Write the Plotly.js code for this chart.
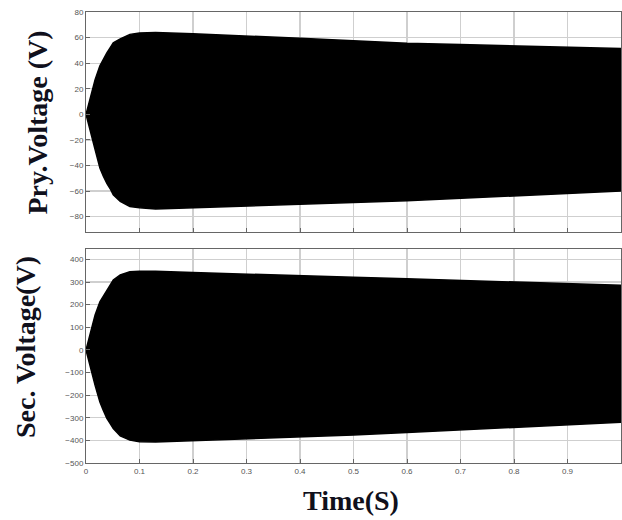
<!DOCTYPE html>
<html>
<head>
<meta charset="utf-8">
<script src="https://cdn.plot.ly/plotly-3.0.1.min.js"></script>
<style>html,body{margin:0;padding:0;background:#fff;}#chart{width:622px;height:520px;}</style>
</head>
<body>
<div id="chart"></div>
<script>
// Envelope sample times (s)
var timeS = [0, 0.0075, 0.017, 0.026, 0.032, 0.039, 0.045, 0.051, 0.064, 0.082, 0.1, 0.13, 0.2, 0.3, 0.4, 0.5, 0.6, 0.7, 0.8, 0.9, 1.0];
// Primary voltage envelope (V)
var pryUpper = [0, 12, 27, 38, 43, 48, 52, 56, 59, 62.5, 63.5, 64, 63, 61.5, 59.5, 57.5, 55.5, 54.5, 53.5, 52.5, 51.5];
var pryLower = [0, -12, -27.5, -42, -48, -54, -58, -63, -68, -72, -73, -74, -73.5, -72, -70.5, -69, -67.5, -66, -64, -62, -60];
// Secondary voltage envelope (V)
var secUpper = [0, 73, 154, 213, 235, 262, 286, 309, 331, 345, 348, 348, 342, 336, 329, 321, 314, 307, 300, 293, 286];
var secLower = [0, -67, -156, -230, -265, -303, -325, -348, -380, -399, -406, -407, -402, -394, -385, -376, -365, -355, -344, -332, -320];

var pryTicks = [-80, -60, -40, -20, 0, 20, 40, 60, 80];
var secTicks = [-500, -400, -300, -200, -100, 0, 100, 200, 300, 400];
var xTicks = [0, 0.1, 0.2, 0.3, 0.4, 0.5, 0.6, 0.7, 0.8, 0.9, 1];
var xTickText = ['0', '0.1', '0.2', '0.3', '0.4', '0.5', '0.6', '0.7', '0.8', '0.9', '1'];

function band(up, lo, xa, ya) {
  var xs = timeS.concat(timeS.slice().reverse());
  var ys = up.concat(lo.slice().reverse());
  return {x: xs, y: ys, xaxis: xa, yaxis: ya, type: 'scatter', mode: 'lines',
    fill: 'toself', fillcolor: '#000', line: {color: '#000', width: 1.5}, hoverinfo: 'skip'};
}

var data = [band(pryUpper, pryLower, 'x', 'y'), band(secUpper, secLower, 'x2', 'y2')];

var tickFont = {family: 'Liberation Sans, Arial, sans-serif', size: 8, color: '#555'};
var axBase = {showline: true, mirror: true, linecolor: '#666', linewidth: 1,
  showgrid: true, gridcolor: '#cfcfcf', gridwidth: 1.2, zeroline: false,
  ticks: 'inside', ticklen: 4, tickcolor: '#666', tickfont: tickFont};

function ax(extra) { var o = {}; for (var k in axBase) o[k] = axBase[k]; for (var k2 in extra) o[k2] = extra[k2]; return o; }

var titleFont = {family: 'Liberation Serif, Times New Roman, serif', size: 28, color: '#10101c'};

var layout = {
  width: 622, height: 520,
  margin: {l: 86, r: 1, t: 12, b: 57},
  paper_bgcolor: '#fff', plot_bgcolor: '#fff',
  showlegend: false,
  xaxis: ax({domain: [0, 1], range: [0, 1], tickvals: xTicks, showticklabels: false, anchor: 'y'}),
  yaxis: ax({domain: [0.5122, 1], range: [-92, 80], tickvals: pryTicks, anchor: 'x'}),
  xaxis2: ax({domain: [0, 1], range: [0, 1], tickvals: xTicks, ticktext: xTickText, anchor: 'y2'}),
  yaxis2: ax({domain: [0, 0.4745], range: [-500, 446], tickvals: secTicks, anchor: 'x2'}),
  annotations: [
    {text: '<b>Pry.Voltage (V)</b>', xref: 'paper', yref: 'paper', x: (37 - 86) / 535, y: 1 - (122.5 - 12) / 451,
      xanchor: 'center', yanchor: 'middle', textangle: -90, showarrow: false, font: titleFont},
    {text: '<b>Sec. Voltage(V)</b>', xref: 'paper', yref: 'paper', x: (25 - 86) / 535, y: 1 - (347 - 12) / 451,
      xanchor: 'center', yanchor: 'middle', textangle: -90, showarrow: false, font: titleFont},
    {text: '<b>Time(S)</b>', xref: 'paper', yref: 'paper', x: (351 - 86) / 535, y: 1 - (500 - 12) / 451,
      xanchor: 'center', yanchor: 'middle', showarrow: false, font: titleFont}
  ]
};

Plotly.newPlot('chart', data, layout, {displayModeBar: false, staticPlot: true});
</script>
</body>
</html>
